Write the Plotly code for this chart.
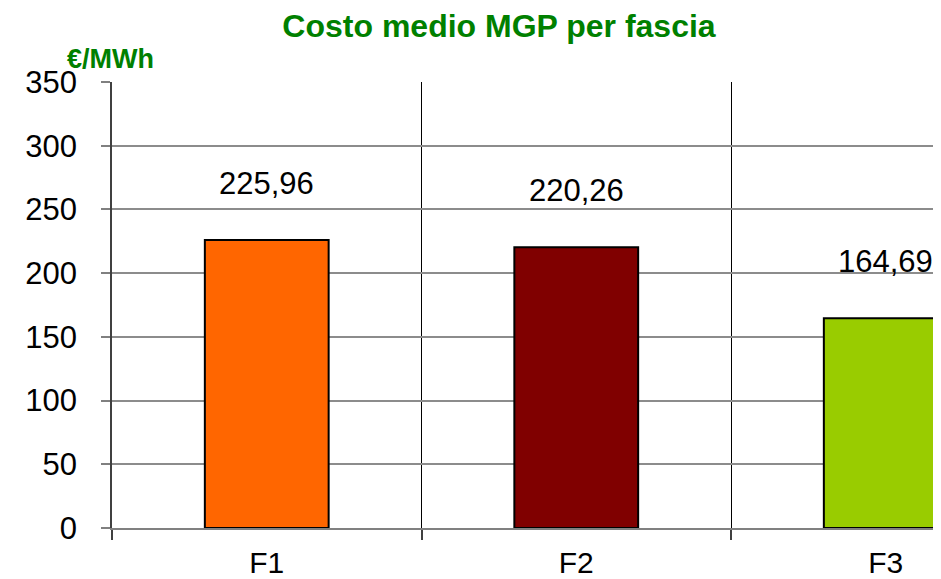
import plotly.graph_objects as go

categories = ["F1", "F2", "F3"]
values = [225.96, 220.26, 164.69]
labels = ["225,96", "220,26", "164,69"]
colors = ["#FF6600", "#800000", "#99CC00"]
y_ticks = [0, 50, 100, 150, 200, 250, 300, 350]

OFF = 8  # page body margin
W, H = 941 - OFF, 579 - OFF
ml, mr, mt, mb = 112 - OFF, 0, 82 - OFF, 49
pw = W - ml - mr
ph = H - mt - mb

fig = go.Figure()
fig.add_trace(go.Bar(
    x=categories, y=values, width=0.4,
    marker=dict(color=colors, line=dict(color="black", width=2)),
    hoverinfo="skip",
))

for c, v, t in zip(categories, values, labels):
    fig.add_annotation(x=c, y=v, text=t, showarrow=False, yshift=57,
                       yanchor="middle", xanchor="center",
                       font=dict(family="Liberation Sans", size=31, color="black"))

fig.add_annotation(xref="paper", yref="paper", x=(65 - 112) / pw, y=(530 - 59) / ph,
                   text="<b>€/MWh</b>", showarrow=False, xanchor="left", yanchor="middle",
                   font=dict(family="Liberation Sans", size=27, color="#008000"))

fig.update_layout(
    width=W, height=H,
    margin=dict(l=ml, r=mr, t=mt, b=mb, pad=0),
    paper_bgcolor="white", plot_bgcolor="white",
    showlegend=False,
    title=dict(text="<b>Costo medio MGP per fascia</b>", xref="container", x=(499 - OFF) / W,
               xanchor="center", y=1 - (26 - OFF) / H, yanchor="middle",
               font=dict(family="Liberation Sans", size=32, color="#008000")),
    font=dict(family="Liberation Sans", size=30, color="black"),
)

fig.update_xaxes(
    type="category", range=[-0.5, -0.5 + pw / 309.5],
    tickson="boundaries", ticks="outside", ticklen=10, tickwidth=1.5, tickcolor="#404040",
    showgrid=True, gridcolor="black", gridwidth=1,
    showline=True, linecolor="#808080", linewidth=1.5,
    tickfont=dict(family="Liberation Sans", size=30, color="black"),
    ticklabelstandoff=7,
)
fig.update_yaxes(
    range=[0, 350], tickvals=y_ticks, ticktext=[str(v) for v in y_ticks],
    ticks="outside", ticklen=9, tickwidth=1.5, tickcolor="#808080",
    showgrid=True, gridcolor="#8c8c8c", gridwidth=1.5,
    showline=True, linecolor="#404040", linewidth=1.5,
    zeroline=False,
    tickfont=dict(family="Liberation Sans", size=31, color="black"),
    ticklabelstandoff=18,
)

fig.write_html("out.html")
